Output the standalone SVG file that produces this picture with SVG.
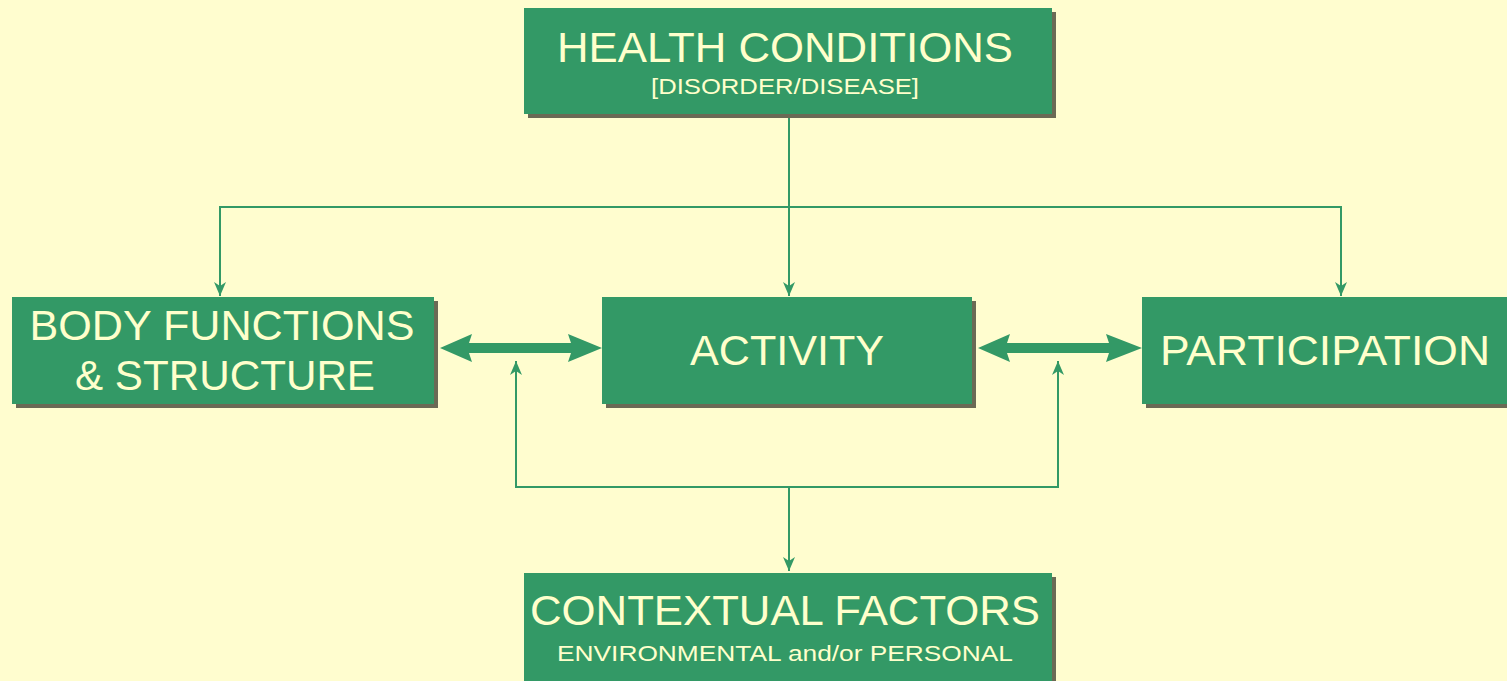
<svg xmlns="http://www.w3.org/2000/svg" width="1507" height="681" viewBox="0 0 1507 681">
<style>
.bg{fill:#FFFDCF}
.box{fill:#339966}
.shadow{fill:#6B6A55}
.t{fill:#FFFFCC;font-family:"Liberation Sans",Arial,sans-serif;text-anchor:middle}
.big{font-size:42px}
.small{font-size:22px}
.ln{stroke:#339966;stroke-width:2;fill:none}
.thick{fill:#339966}
</style>
<defs>
<marker id="arr" viewBox="0 0 14 12" refX="14" refY="6" markerWidth="14" markerHeight="12" markerUnits="userSpaceOnUse" orient="auto-start-reverse">
<path d="M0,0 L14,6 L0,12 L4,6 z" fill="#339966"/>
</marker>
</defs>
<rect class="bg" x="0" y="0" width="1507" height="681"/>

<g id="connectors">
<line class="ln" x1="789" y1="118" x2="789" y2="296" marker-end="url(#arr)"/>
<polyline class="ln" points="220,296 220,207 1341,207 1341,296" marker-start="url(#arr)" marker-end="url(#arr)"/>
<polyline class="ln" points="516,361 516,487 1058,487 1058,361" marker-start="url(#arr)" marker-end="url(#arr)"/>
<line class="ln" x1="789" y1="487" x2="789" y2="571" marker-end="url(#arr)"/>
<polygon class="thick" points="440,348 472,334 469,343 571,343 568,334 602,348 568,362 571,353 469,353 472,362"/>
<polygon class="thick" points="978,348 1010,334 1007,343 1109,343 1106,334 1142,348 1106,362 1109,353 1007,353 1010,362"/>
</g>

<g id="health-conditions">
<rect class="shadow" x="528" y="12" width="528" height="106"/>
<rect class="box" x="524" y="8" width="528" height="106"/>
<text class="t big" x="785" y="62" textLength="456" lengthAdjust="spacingAndGlyphs">HEALTH CONDITIONS</text>
<text class="t small" x="785" y="94" textLength="268" lengthAdjust="spacingAndGlyphs">[DISORDER/DISEASE]</text>
</g>

<g id="body-functions">
<rect class="shadow" x="16" y="301" width="422" height="107"/>
<rect class="box" x="12" y="297" width="422" height="107"/>
<text class="t big" x="222" y="340" textLength="385" lengthAdjust="spacingAndGlyphs">BODY FUNCTIONS</text>
<text class="t big" x="225" y="390" textLength="300" lengthAdjust="spacingAndGlyphs">&amp; STRUCTURE</text>
</g>

<g id="activity">
<rect class="shadow" x="606" y="301" width="370" height="107"/>
<rect class="box" x="602" y="297" width="370" height="107"/>
<text class="t big" x="787" y="365" textLength="194" lengthAdjust="spacingAndGlyphs">ACTIVITY</text>
</g>

<g id="participation">
<rect class="shadow" x="1146" y="301" width="370" height="107"/>
<rect class="box" x="1142" y="297" width="370" height="107"/>
<text class="t big" x="1325" y="365" textLength="330" lengthAdjust="spacingAndGlyphs">PARTICIPATION</text>
</g>

<g id="contextual-factors">
<rect class="shadow" x="528" y="577" width="528" height="110"/>
<rect class="box" x="524" y="573" width="528" height="110"/>
<text class="t big" x="785" y="625" textLength="510" lengthAdjust="spacingAndGlyphs">CONTEXTUAL FACTORS</text>
<text class="t small" x="785" y="661" textLength="456" lengthAdjust="spacingAndGlyphs">ENVIRONMENTAL and/or PERSONAL</text>
</g>
</svg>
